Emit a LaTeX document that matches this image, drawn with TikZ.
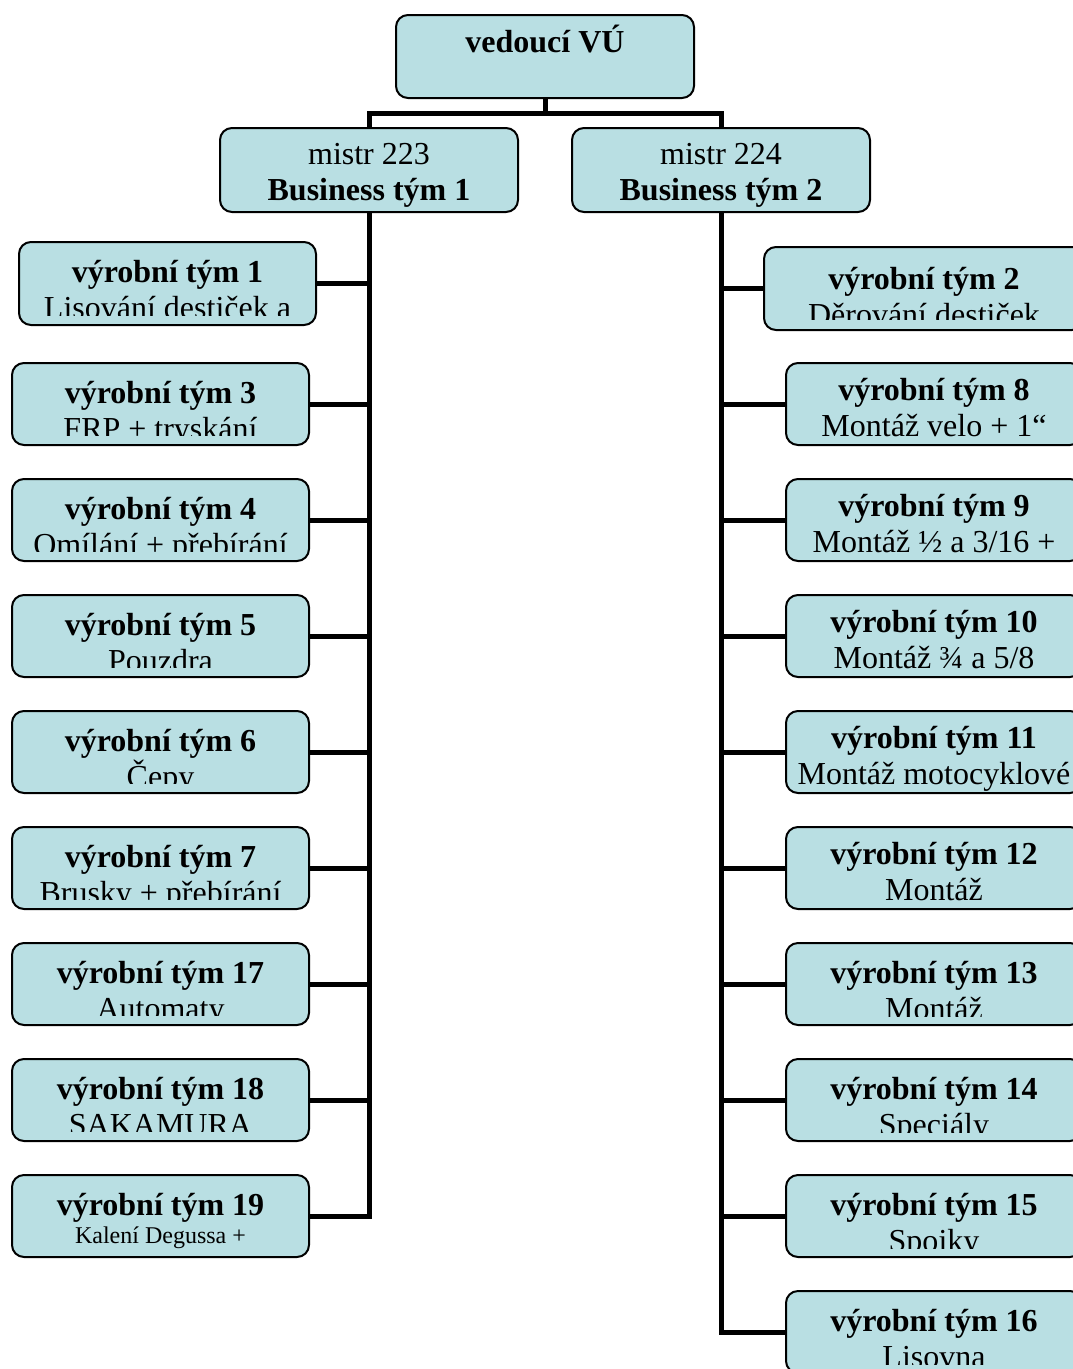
\documentclass[tikz,border=0pt]{standalone}
\usepackage{fontspec}
\setmainfont{Liberation Serif}
\definecolor{boxfill}{HTML}{B9DFE3}
\tikzset{
  unitbox/.style={draw=black, line width=2pt, rounded corners=12pt, fill=boxfill, inner sep=0pt, anchor=north west},
  conn/.style={line width=5pt, draw=black},
  big/.style={font=\fontsize{32}{38}\selectfont, inner sep=0pt, anchor=base},
  bigb/.style={font=\fontsize{32}{38}\selectfont\bfseries, inner sep=0pt, anchor=base},
  small/.style={font=\fontsize{24}{28}\selectfont, inner sep=0pt, anchor=base},
}
% #1 style of line 2, #2 box name, #3 clip inset from bottom, #4/#5 baseline offsets from top, #6/#7 texts
\newcommand\teamtext[7][big]{%
  \begin{scope}
    \clip ([yshift=#3pt]#2.south west) rectangle ([yshift=-1pt]#2.north east);
    \node[bigb] (#2-a) at ([yshift=-#4pt]#2.north) {#6};
    \node[#1] (#2-b) at ([yshift=-#5pt]#2.north) {#7};
  \end{scope}}
\begin{document}
\begin{tikzpicture}[x=1pt,y=-1pt]
\useasboundingbox (0,0) rectangle (1073,1369);
\clip (0,0) rectangle (1073,1369);

% top level
\node[unitbox, minimum width=298pt, minimum height=83pt] (top) at (395,14) {};
\node[bigb] (top-a) at ([yshift=-38pt]top.north) {vedoucí VÚ};

\node[unitbox, minimum width=298pt, minimum height=84pt] (m1) at (219,127) {};
\node[big] (m1-a) at ([yshift=-37pt]m1.north) {mistr 223};
\node[bigb] (m1-b) at ([yshift=-73pt]m1.north) {Business tým 1};

\node[unitbox, minimum width=298pt, minimum height=84pt] (m2) at (571,127) {};
\node[big] (m2-a) at ([yshift=-37pt]m2.north) {mistr 224};
\node[bigb] (m2-b) at ([yshift=-73pt]m2.north) {Business tým 2};

% left column
\node[unitbox, minimum width=297pt, minimum height=83pt] (b1) at (18,241) {};
\node[unitbox, minimum width=297pt, minimum height=82pt] (b3) at (11,362) {};
\node[unitbox, minimum width=297pt, minimum height=82pt] (b4) at (11,478) {};
\node[unitbox, minimum width=297pt, minimum height=82pt] (b5) at (11,594) {};
\node[unitbox, minimum width=297pt, minimum height=82pt] (b6) at (11,710) {};
\node[unitbox, minimum width=297pt, minimum height=82pt] (b7) at (11,826) {};
\node[unitbox, minimum width=297pt, minimum height=82pt] (b17) at (11,942) {};
\node[unitbox, minimum width=297pt, minimum height=82pt] (b18) at (11,1058) {};
\node[unitbox, minimum width=297pt, minimum height=82pt] (b19) at (11,1174) {};

% right column
\node[unitbox, minimum width=320pt, minimum height=83pt] (b2) at (763,246) {};
\node[unitbox, minimum width=296pt, minimum height=82pt] (b8) at (785,362) {};
\node[unitbox, minimum width=296pt, minimum height=82pt] (b9) at (785,478) {};
\node[unitbox, minimum width=296pt, minimum height=82pt] (b10) at (785,594) {};
\node[unitbox, minimum width=296pt, minimum height=82pt] (b11) at (785,710) {};
\node[unitbox, minimum width=296pt, minimum height=82pt] (b12) at (785,826) {};
\node[unitbox, minimum width=296pt, minimum height=82pt] (b13) at (785,942) {};
\node[unitbox, minimum width=296pt, minimum height=82pt] (b14) at (785,1058) {};
\node[unitbox, minimum width=296pt, minimum height=82pt] (b15) at (785,1174) {};
\node[unitbox, minimum width=296pt, minimum height=82pt] (b16) at (785,1290) {};

% texts
\teamtext{b1}{11}{41}{77}{výrobní tým 1}{Lisování destiček a}
\teamtext{b3}{11}{41}{77}{výrobní tým 3}{FRP + tryskání}
\teamtext{b4}{11}{41}{77}{výrobní tým 4}{Omílání + přebírání}
\teamtext{b5}{11}{41}{77}{výrobní tým 5}{Pouzdra}
\teamtext{b6}{11}{41}{77}{výrobní tým 6}{Čepy}
\teamtext{b7}{11}{41}{77}{výrobní tým 7}{Brusky + přebírání}
\teamtext{b17}{11}{41}{77}{výrobní tým 17}{Automaty}
\teamtext{b18}{11}{41}{77}{výrobní tým 18}{SAKAMURA}
\teamtext[small]{b19}{2}{41}{69}{výrobní tým 19}{Kalení Degussa +}

\teamtext{b2}{12}{43}{79}{výrobní tým 2}{Děrování destiček}
\teamtext{b8}{2}{38}{74}{výrobní tým 8}{Montáž velo + 1“}
\teamtext{b9}{2}{38}{74}{výrobní tým 9}{Montáž ½ a 3/16 +}
\teamtext{b10}{2}{38}{74}{výrobní tým 10}{Montáž ¾ a 5/8}
\teamtext{b11}{2}{38}{74}{výrobní tým 11}{Montáž motocyklové}
\teamtext{b12}{2}{38}{74}{výrobní tým 12}{Montáž}
\teamtext{b13}{10}{41}{77}{výrobní tým 13}{Montáž}
\teamtext{b14}{10}{41}{77}{výrobní tým 14}{Speciály}
\teamtext{b15}{10}{41}{77}{výrobní tým 15}{Spojky}
\teamtext{b16}{10}{41}{77}{výrobní tým 16}{Lisovna}

% connectors
\coordinate (j) at (top.south |- 0,113);
\draw[conn] (top.south) -- (j);
\draw[conn] (m1.north) -- (m1.north |- j) -- (m2.north |- j) -- (m2.north);

\draw[conn] (m1.south) -- (m1.south |- b19.east) -- (b19.east);
\foreach \b in {b1,b3,b4,b5,b6,b7,b17,b18}
  \draw[conn] (m1.south |- \b.east) -- (\b.east);

\draw[conn] (m2.south) -- (m2.south |- b16.west) -- (b16.west);
\foreach \b in {b2,b8,b9,b10,b11,b12,b13,b14,b15}
  \draw[conn] (m2.south |- \b.west) -- (\b.west);
\end{tikzpicture}
\end{document}
